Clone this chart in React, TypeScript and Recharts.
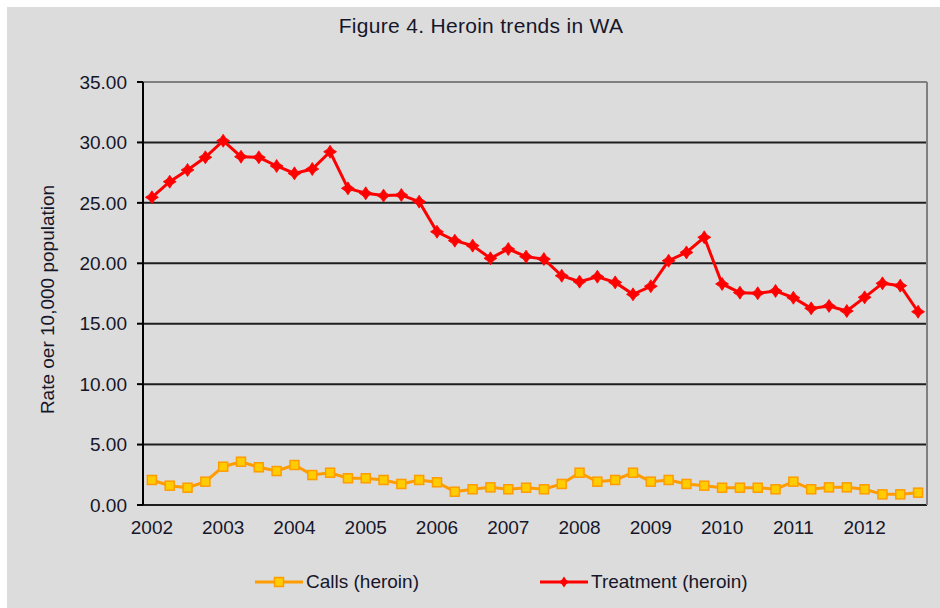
import React from 'react';
import { LineChart, Line, XAxis, YAxis, CartesianGrid, ReferenceLine, Legend } from 'recharts';

const years = ['2002', '2003', '2004', '2005', '2006', '2007', '2008', '2009', '2010', '2011', '2012'];
const quartersPerYear = 4;

const callsRate = [
  2.07, 1.6, 1.43, 1.93, 3.17, 3.58, 3.12, 2.81, 3.31, 2.48, 2.67,
  2.21, 2.21, 2.07, 1.74, 2.07, 1.88, 1.1, 1.3, 1.46, 1.3, 1.43,
  1.3, 1.74, 2.67, 1.93, 2.07, 2.67, 1.93, 2.07, 1.74, 1.6, 1.43,
  1.43, 1.43, 1.3, 1.93, 1.3, 1.46, 1.46, 1.3, 0.88, 0.88, 1.02,
];

const treatmentRate = [
  25.46, 26.75, 27.72, 28.77, 30.14, 28.82, 28.77, 28.05, 27.44, 27.8, 29.23,
  26.2, 25.79, 25.6, 25.65, 25.1, 22.61, 21.87, 21.46, 20.41, 21.18, 20.55,
  20.35, 18.97, 18.48, 18.89, 18.42, 17.43, 18.1, 20.21, 20.9, 22.15, 18.29,
  17.57, 17.52, 17.71, 17.15, 16.27, 16.47, 16.05, 17.18, 18.34, 18.15, 15.99,
];

const yTicks = [0, 5, 10, 15, 20, 25, 30, 35];

const seriesNames = { calls: 'Calls (heroin)', treatment: 'Treatment (heroin)' };
const titleText = 'Figure 4. Heroin trends in WA';
const yAxisTitle = 'Rate oer 10,000 population';

const nCat = callsRate.length;
const tableData = callsRate.map((c, i) => ({ pos: i + 0.5, calls: c, treatment: treatmentRate[i] }));
const markTicks = Array.from({ length: nCat + 1 }, (_, i) => i);
const yearTicks = years.map((_, k) => k * quartersPerYear + 0.5);

const FONT = '"Liberation Sans", Arial, sans-serif';
const TEXT = '#16162a';
const CALLS_LINE = '#ff9c00';
const CALLS_FILL = '#ffcc00';
const TREAT = '#ff0000';

const SquareDot = (props: any) => {
  const { cx, cy } = props;
  if (cx == null || cy == null) return null;
  return <rect x={cx - 4.5} y={cy - 4.5} width={9} height={9} fill={CALLS_FILL} stroke={CALLS_LINE} strokeWidth={1.5} />;
};

const starPath = (cx: number, cy: number, r: number, k: number) =>
  `M${cx},${cy - r} L${cx + k},${cy - k} L${cx + r},${cy} L${cx + k},${cy + k} L${cx},${cy + r} L${cx - k},${cy + k} L${cx - r},${cy} L${cx - k},${cy - k} Z`;

const StarDot = (props: any) => {
  const { cx, cy } = props;
  if (cx == null || cy == null) return null;
  return <path d={starPath(cx, cy, 6.5, 2.6)} fill={TREAT} stroke={TREAT} strokeWidth={0.8} />;
};

const YLabel = (props: any) => {
  const vb = props.viewBox || { x: 0, y: 0, width: 0, height: 0 };
  const cx = 40;
  const cy = vb.y + vb.height / 2 + 6;
  return (
    <text
      x={cx}
      y={cy}
      transform={`rotate(-90 ${cx} ${cy})`}
      textAnchor="middle"
      dominantBaseline="central"
      fontFamily={FONT}
      fontSize={19}
      fill={TEXT}
    >
      {yAxisTitle}
    </text>
  );
};

const LegendContent = () => (
  <div style={{ position: 'relative', width: 933, height: 26, fontFamily: FONT, fontSize: 19, color: TEXT }}>
    <div style={{ position: 'absolute', left: 248, top: 0, display: 'flex', alignItems: 'center', height: 26 }}>
      <svg width={48} height={14}>
        <line x1={0} y1={7} x2={48} y2={7} stroke={CALLS_LINE} strokeWidth={3} />
        <rect x={19.5} y={2.5} width={9} height={9} fill={CALLS_FILL} stroke={CALLS_LINE} strokeWidth={1.5} />
      </svg>
      <span style={{ marginLeft: 3 }}>{seriesNames.calls}</span>
    </div>
    <div style={{ position: 'absolute', left: 533, top: 0, display: 'flex', alignItems: 'center', height: 26 }}>
      <svg width={48} height={14}>
        <line x1={0} y1={7} x2={48} y2={7} stroke={TREAT} strokeWidth={3} />
        <path d={starPath(24, 7, 5.5, 2.2)} fill={TREAT} />
      </svg>
      <span style={{ marginLeft: 3 }}>{seriesNames.treatment}</span>
    </div>
  </div>
);

export default function App() {
  return (
    <div
      style={{
        position: 'absolute',
        left: 7,
        top: 7,
        width: 933,
        height: 601,
        background: '#dcdcdc',
        fontFamily: FONT,
      }}
    >
      <div
        style={{
          position: 'absolute',
          left: 0,
          top: 9,
          width: 948,
          textAlign: 'center',
          fontSize: 21,
          lineHeight: '20px',
          color: TEXT,
          letterSpacing: 0.3,
        }}
      >
        {titleText}
      </div>
      <LineChart width={933} height={601} data={tableData} margin={{ top: 75, right: 13, bottom: 73, left: 0 }}>
        <CartesianGrid xAxisId="main" vertical={false} stroke="#1e1e1e" strokeWidth={2} />
        <XAxis
          xAxisId="main"
          dataKey="pos"
          type="number"
          domain={[0, nCat]}
          ticks={markTicks}
          interval={0}
          height={0}
          tick={false}
          tickSize={6}
          axisLine={{ stroke: '#000', strokeWidth: 2 }}
          tickLine={{ stroke: '#000', strokeWidth: 2 }}
        />
        <XAxis
          xAxisId="labels"
          dataKey="pos"
          type="number"
          domain={[0, nCat]}
          ticks={yearTicks}
          interval={0}
          height={30}
          axisLine={false}
          tickLine={false}
          tickSize={0}
          tickMargin={16}
          tickFormatter={(v: number) => years[Math.round((v - 0.5) / quartersPerYear)]}
          tick={{ fill: TEXT, fontSize: 19, fontFamily: FONT }}
        />
        <YAxis
          domain={[0, 35]}
          ticks={yTicks}
          interval={0}
          width={136}
          tickSize={6}
          tickMargin={10}
          tickFormatter={(v: number) => v.toFixed(2)}
          tick={{ fill: TEXT, fontSize: 19, fontFamily: FONT }}
          axisLine={{ stroke: '#000', strokeWidth: 2 }}
          tickLine={{ stroke: '#000', strokeWidth: 2 }}
          label={<YLabel />}
        />
        <ReferenceLine xAxisId="main" y={35} stroke="#808080" strokeWidth={2} />
        <ReferenceLine xAxisId="main" x={nCat} stroke="#808080" strokeWidth={2} />
        <Line
          xAxisId="main"
          dataKey="calls"
          name={seriesNames.calls}
          stroke={CALLS_LINE}
          strokeWidth={3}
          dot={<SquareDot />}
          activeDot={false}
          isAnimationActive={false}
        />
        <Line
          xAxisId="main"
          dataKey="treatment"
          name={seriesNames.treatment}
          stroke={TREAT}
          strokeWidth={3}
          dot={<StarDot />}
          activeDot={false}
          isAnimationActive={false}
        />
        <Legend
          layout="horizontal"
          verticalAlign="middle"
          align="center"
          content={<LegendContent />}
          wrapperStyle={{ left: 0, top: 562, width: 933, height: 26 }}
        />
      </LineChart>
    </div>
  );
}
